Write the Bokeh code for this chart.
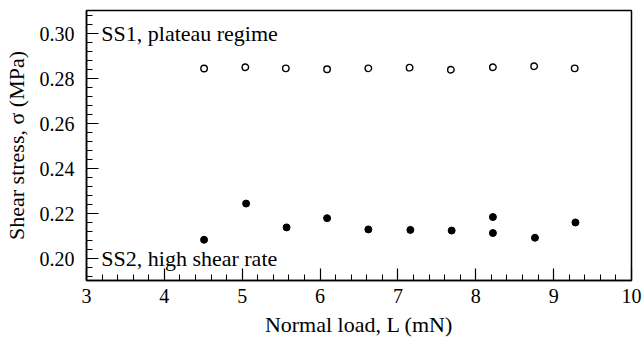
from bokeh.plotting import figure
from bokeh.models import Range1d, FixedTicker, PrintfTickFormatter, Label
from bokeh.embed import file_html
from bokeh.resources import INLINE

# SS1 plateau regime (open circles)
ss1_load = [4.51, 5.04, 5.56, 6.09, 6.62, 7.15, 7.68, 8.22, 8.75, 9.27]
ss1_stress = [0.2845, 0.2851, 0.2846, 0.2842, 0.2846, 0.2849, 0.2840, 0.2851, 0.2855, 0.2846]

# SS2 high shear rate (filled circles)
ss2_load = [4.51, 5.05, 5.57, 6.09, 6.62, 7.16, 7.69, 8.22, 8.22, 8.76, 9.28]
ss2_stress = [0.2084, 0.2245, 0.2139, 0.2180, 0.2130, 0.2128, 0.2125, 0.2185, 0.2114, 0.2093, 0.2161]

x_ticks = [3, 4, 5, 6, 7, 8, 9, 10]
y_ticks = [0.20, 0.22, 0.24, 0.26, 0.28, 0.30]

FONT = "Liberation Serif"

p = figure(width=642, height=339, output_backend="svg", toolbar_location=None,
           x_range=Range1d(3, 10), y_range=Range1d(0.1903, 0.3103),
           min_border_left=85, min_border_right=11, min_border_top=10, min_border_bottom=58)

p.grid.visible = False
p.background_fill_color = "white"
p.border_fill_color = "white"
p.outline_line_color = "black"
p.outline_line_width = 1.5

x_minor = [round(3 + 0.2 * i, 2) for i in range(36)]
y_minor = [round(0.192 + 0.004 * i, 3) for i in range(30)]

p.xaxis.ticker = FixedTicker(ticks=x_ticks, minor_ticks=x_minor)
p.yaxis.ticker = FixedTicker(ticks=y_ticks, minor_ticks=y_minor)
p.yaxis.formatter = PrintfTickFormatter(format="%.2f")

for ax in (p.xaxis[0], p.yaxis[0]):
    ax.axis_line_width = 1.5
    ax.axis_line_color = "black"
    ax.major_tick_in = 12
    ax.major_tick_out = 0
    ax.minor_tick_in = 6
    ax.minor_tick_out = 0
    ax.major_tick_line_width = 1.2
    ax.minor_tick_line_width = 1
    ax.major_label_text_font = FONT
    ax.major_label_text_font_size = "20px"
    ax.major_label_text_color = "black"
    ax.axis_label_text_font = FONT
    ax.axis_label_text_font_size = "22px"
    ax.axis_label_text_font_style = "normal"
    ax.axis_label_text_color = "black"

p.xaxis.major_label_standoff = 8
p.yaxis.major_label_standoff = 12
p.xaxis.axis_label = "Normal load, L (mN)"
p.yaxis.axis_label = "Shear stress, σ (MPa)"
p.xaxis.axis_label_standoff = 6
p.yaxis.axis_label_standoff = 8

p.scatter(ss1_load, ss1_stress, marker="circle", size=6.5, fill_color="white",
          line_color="black", line_width=1.4)
p.scatter(ss2_load, ss2_stress, marker="circle", size=7, fill_color="black",
          line_color="black")

p.add_layout(Label(x=3.19, y=0.30, text="SS1, plateau regime", text_font=FONT,
                   text_font_size="22px", text_baseline="middle", text_color="black"))
p.add_layout(Label(x=3.19, y=0.20, text="SS2, high shear rate", text_font=FONT,
                   text_font_size="22px", text_baseline="middle", text_color="black"))

open("out.html", "w").write(file_html(p, INLINE))
